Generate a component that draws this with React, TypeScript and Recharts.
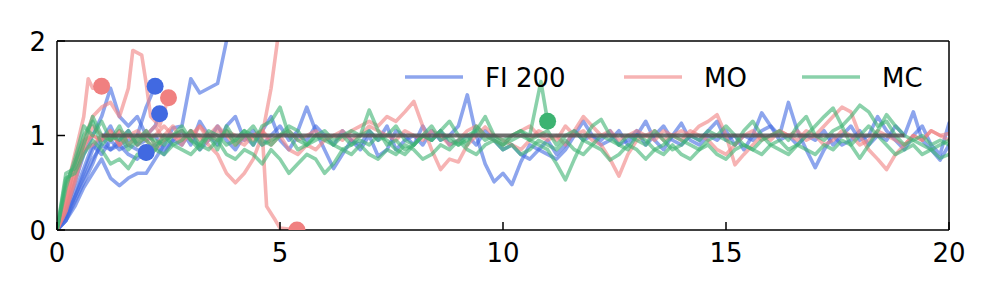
import { ComposedChart, Line, Scatter, XAxis, YAxis, ReferenceLine } from 'recharts';

const BLUE = '#4169e1';
const PINK = '#f08080';
const GREEN = '#3cb371';
const FONT = 'DejaVu Sans, sans-serif';

const xTicks = [0, 5, 10, 15, 20];
const yTicks = [0, 1, 2];
const legendLabels = ['FI 200', 'MO', 'MC'];

// full-length runs, one value every 0.2 from 0 to 20
const fiRunA = [
  0, 0.15, 0.35, 0.55, 0.75, 0.9, 0.85, 0.95, 1.05, 0.9,
  0.95, 1.0, 0.85, 0.95, 1.05, 0.9, 1.15, 1.0, 0.9, 1.1,
  1.2, 0.95, 1.05, 0.9, 1.0, 1.1, 0.95, 1.05, 1.3, 1.05,
  0.85, 0.65, 0.8, 0.95, 0.9, 1.05, 0.95, 1.1, 0.85, 0.95,
  1.0, 0.9, 1.05, 0.95, 1.0, 1.1, 1.43, 1.0, 0.7, 0.51,
  0.6, 0.48, 0.72, 0.9, 0.85, 0.95, 0.8, 0.9, 1.05, 0.95,
  1.0, 0.9, 0.95, 1.05, 0.9, 1.0, 1.15, 0.95, 0.85, 1.0,
  1.13, 0.95, 0.9, 1.0, 0.95, 1.05, 0.9, 1.0, 0.95, 1.05,
  1.1, 1.0, 1.35, 1.05, 0.85, 0.66, 0.85, 1.0, 0.9, 0.95,
  1.05, 0.9, 1.0, 0.95, 1.1, 1.0, 1.25, 0.95, 0.85, 0.74,
  0.9,
];
const fiRunB = [
  0, 0.1, 0.3, 0.5, 0.7, 0.95, 1.1, 0.9, 0.8, 0.75,
  0.85, 0.9, 0.8, 0.95, 0.9, 1.05, 0.85, 0.95, 1.1, 0.95,
  0.85, 1.0, 0.9, 1.05, 1.2, 0.95, 0.85, 1.0, 0.95, 1.1,
  1.0, 0.9, 1.05, 0.95, 0.85, 1.0, 0.78, 0.85, 1.05, 1.0,
  0.9, 1.1, 0.95, 1.05, 0.9, 0.95, 1.0, 0.9, 1.05, 0.95,
  0.85, 0.9, 0.8, 0.75, 0.85, 0.8, 0.75, 0.85, 1.0, 1.15,
  1.0, 0.95, 1.05, 0.9, 0.95, 1.05, 0.9, 1.0, 1.1, 0.95,
  0.9, 1.0, 0.95, 1.05, 1.15, 0.95, 1.0, 0.85, 1.0, 1.24,
  1.1, 0.95, 1.0, 0.9, 1.0, 0.95, 1.05, 0.9, 1.0, 1.1,
  0.95, 1.0, 1.2, 1.05, 0.95, 0.85, 1.0, 1.1, 0.9, 0.8,
  1.13,
];
const moRunA = [
  0, 0.3, 0.7, 0.95, 1.0, 0.95, 1.05, 0.9, 1.0, 0.95,
  1.05, 0.9, 1.0, 1.1, 0.95, 1.0, 1.1, 0.95, 1.05, 1.0,
  0.9, 1.0, 0.95, 1.05, 0.9, 1.0, 0.85, 0.8, 0.9, 0.85,
  0.95, 1.0, 0.95, 1.05, 1.1, 1.15, 1.1, 1.2, 1.15, 1.25,
  1.36, 1.1, 0.85, 0.64, 0.75, 0.72, 0.9, 1.0, 1.09, 1.0,
  0.95, 0.9, 0.85, 0.95, 1.05, 1.0, 0.95, 1.1, 1.0, 1.05,
  0.95, 0.9, 0.75, 0.57, 0.8, 0.95, 1.0, 1.05, 0.95, 1.0,
  1.05, 1.0, 1.1, 1.15, 1.22, 1.0, 0.69, 0.8, 0.9, 1.0,
  0.95, 1.05, 1.0, 0.95, 1.05, 1.0, 1.1, 1.2, 1.3, 1.25,
  1.0, 0.85, 0.75, 0.64, 0.8, 0.9, 1.0, 0.95, 1.05, 1.0,
  0.95,
];
const moRunB = [
  0, 0.2, 0.5, 0.85, 1.1, 1.0, 0.95, 1.05, 0.9, 1.0,
  0.95, 0.85, 0.95, 1.0, 0.9, 1.05, 0.95, 1.0, 1.1, 1.0,
  0.95, 0.9, 1.0, 1.05, 0.95, 1.0, 1.05, 0.95, 1.0, 1.05,
  0.95, 1.0, 1.05, 0.95, 1.0, 1.1, 1.05, 1.0, 0.95, 1.05,
  1.0, 0.95, 1.05, 1.0, 0.9, 0.95, 1.05, 1.1, 1.0, 0.95,
  0.9, 1.0, 1.05, 1.1, 1.0, 0.95, 1.0, 0.9, 1.05, 1.2,
  1.1, 1.0, 1.05, 0.95, 1.0, 1.05, 1.0, 0.95, 1.05, 1.0,
  0.95, 1.05, 1.0, 0.95, 0.85, 0.8, 0.9, 1.0, 1.05, 0.95,
  1.0, 1.05, 1.0, 1.05, 0.95, 1.0, 0.9, 0.95, 1.05, 1.0,
  0.9, 0.95, 1.05, 1.0, 0.95, 0.9, 1.0, 0.95, 1.05, 1.0,
  1.02,
];
const mcRunA = [
  0, 0.6, 0.65, 0.9, 1.2, 1.0, 0.95, 1.1, 0.9, 1.0,
  0.95, 0.85, 1.0, 0.9, 0.95, 1.05, 0.9, 1.0, 0.85, 1.1,
  0.95, 1.05, 0.9, 1.1, 1.15, 1.3, 1.0, 0.85, 0.9, 1.0,
  0.95, 0.9, 1.0, 1.05, 1.0, 1.27, 1.05, 0.9, 0.95, 0.85,
  0.9, 1.0, 0.95, 1.05, 1.15, 1.0, 0.9, 1.1, 1.0, 0.95,
  0.9, 1.0, 1.05, 0.95, 0.9, 0.85, 0.7, 0.53, 0.75, 0.95,
  1.1, 1.17, 1.0, 0.9, 1.0, 0.95, 0.9, 1.05, 0.95, 0.85,
  0.9, 1.0, 0.95, 1.05, 1.0, 0.95, 0.9, 1.05, 1.15, 1.0,
  0.9, 0.95, 0.85, 0.9, 1.0, 1.1, 1.2, 1.29, 1.1, 0.9,
  0.76, 0.9, 1.05, 1.22, 1.1, 1.0, 0.95, 0.9, 0.85, 0.9,
  0.95,
];
const mcRunB = [
  0, 0.55, 0.6, 0.8, 0.95, 0.85, 0.7, 0.75, 0.65, 0.8,
  0.75, 0.85, 0.8, 0.9, 0.85, 0.8, 0.9, 0.85, 0.95, 0.8,
  0.75, 0.85, 0.8, 0.7, 0.85, 0.75, 0.6, 0.7, 0.8, 0.75,
  0.6, 0.7, 0.85, 0.8, 0.9, 0.8, 0.75, 0.85, 0.8, 0.9,
  0.85, 0.75, 0.8, 0.9, 0.85, 0.95, 0.85, 0.8, 0.9, 0.95,
  0.85, 0.9, 0.8, 0.85, 0.95, 0.9, 0.85, 0.95, 0.85, 0.8,
  0.9, 0.85, 0.74, 0.8, 0.9, 0.85, 0.75, 0.85, 0.8, 0.9,
  0.8, 0.75, 0.85, 0.9, 0.8, 0.75, 0.85, 0.9, 0.85, 0.8,
  0.9, 0.85, 0.8, 0.9, 0.85, 0.8, 0.9, 0.85, 0.95, 0.9,
  1.0, 1.1, 1.0, 0.9, 0.8, 0.85, 0.9, 0.8, 0.85, 0.76,
  0.8,
];
const mcRunC = [
  0, 0.45, 0.75, 1.1, 1.0, 1.15, 0.95, 1.0, 0.85, 0.95,
  1.05, 0.9, 0.95, 1.0, 1.1, 0.95, 0.85, 1.0, 0.95, 1.05,
  0.9, 1.0, 1.1, 0.95, 0.9, 1.0, 1.1, 1.05, 0.9, 0.95,
  1.0, 0.9, 0.85, 0.9, 0.95, 0.9, 1.0, 0.95, 0.85, 0.8,
  0.9, 1.0, 1.1, 0.95, 1.0, 0.9, 0.95, 1.05, 1.2, 1.0,
  0.9, 0.95, 1.0, 0.95, 1.0, 1.05, 0.9, 1.0, 1.05, 0.95,
  0.9, 1.0, 0.95, 0.9, 0.85, 1.0, 0.95, 0.85, 0.9, 1.0,
  0.95, 0.9, 0.85, 0.95, 1.0, 1.1, 1.0, 0.9, 0.85, 0.95,
  1.0, 1.05, 0.95, 1.1, 1.2, 1.0, 0.95, 1.05, 1.1, 1.2,
  1.32, 1.25, 1.1, 1.15, 1.0, 0.9, 0.95, 1.0, 0.9, 0.95,
  0.9,
];

// runs that stop early (last point gets a marker, except the ones leaving the top)
const fiUpX = [0, 0.2, 0.4, 0.6, 0.8, 1.0, 1.2, 1.4, 1.6, 1.8, 2.0, 2.2, 2.4, 2.6, 2.8, 3.0, 3.2, 3.4, 3.6, 3.8, 4.0];
const fiUpY = [0, 0.1, 0.25, 0.45, 0.6, 0.75, 0.55, 0.47, 0.55, 0.6, 0.6, 0.75, 0.9, 1.08, 1.1, 1.6, 1.45, 1.5, 1.55, 2.0, 2.4];
const fiStopAX = [0, 0.2, 0.4, 0.6, 0.8, 1.0, 1.2, 1.4, 1.6, 1.8, 2.0, 2.2];
const fiStopAY = [0, 0.1, 0.35, 0.6, 0.85, 1.0, 0.85, 0.9, 0.95, 1.0, 1.3, 1.52];
const fiStopBX = [0, 0.2, 0.4, 0.6, 0.8, 1.0, 1.2, 1.4, 1.6, 1.8, 2.0, 2.2, 2.3];
const fiStopBY = [0, 0.2, 0.5, 0.8, 1.0, 1.2, 1.5, 1.2, 1.1, 1.2, 1.0, 1.1, 1.23];
const fiStopCX = [0, 0.2, 0.4, 0.6, 0.8, 1.0, 1.2, 1.4, 1.6, 1.8, 2.0];
const fiStopCY = [0, 0.15, 0.4, 0.65, 0.9, 0.8, 0.95, 0.85, 0.9, 0.85, 0.82];

const moStopAX = [0, 0.2, 0.4, 0.6, 0.7, 0.8, 1.0];
const moStopAY = [0, 0.4, 0.8, 1.2, 1.6, 1.5, 1.52];
const moStopBX = [0, 0.2, 0.4, 0.6, 0.8, 1.0, 1.2, 1.4, 1.6, 1.7, 1.9, 2.0, 2.1, 2.3, 2.5];
const moStopBY = [0, 0.3, 0.7, 0.95, 1.2, 1.3, 1.35, 1.2, 1.5, 1.9, 1.85, 1.55, 1.2, 1.1, 1.4];
const moUpX = [0, 0.2, 0.4, 0.6, 0.8, 1.0, 1.2, 1.4, 1.6, 1.8, 2.0, 2.2, 2.4, 2.6, 2.8, 3.0, 3.2, 3.4, 3.6, 3.8, 4.0, 4.2, 4.4, 4.6, 4.8, 5.0];
const moUpY = [0, 0.25, 0.6, 0.9, 1.0, 0.95, 1.05, 0.9, 1.0, 1.05, 0.95, 1.0, 1.1, 1.0, 0.95, 1.05, 1.0, 0.9, 0.8, 0.6, 0.5, 0.6, 0.75, 1.0, 1.5, 2.2];
const moDownX = [0, 0.2, 0.4, 0.6, 0.8, 1.0, 1.2, 1.4, 1.6, 1.8, 2.0, 2.2, 2.4, 2.6, 2.8, 3.0, 3.2, 3.4, 3.6, 3.8, 4.0, 4.2, 4.4, 4.6, 4.7, 4.9, 5.0, 5.38];
const moDownY = [0, 0.2, 0.55, 0.85, 0.9, 1.0, 0.95, 1.05, 1.0, 0.9, 1.0, 1.1, 0.95, 1.0, 1.05, 0.95, 1.1, 1.0, 0.95, 1.05, 1.0, 0.95, 1.0, 1.05, 0.25, 0.1, 0.02, 0];

const mcStopY = [
  0, 0.5, 0.7, 1.0, 1.15, 0.9, 1.0, 0.95, 1.05, 0.9,
  1.0, 0.95, 0.9, 1.0, 1.05, 0.95, 0.9, 1.05, 1.0, 0.9,
  0.95, 1.05, 1.0, 0.9, 0.95, 1.0, 1.05, 0.95, 0.9, 1.0,
  1.05, 0.95, 1.0, 0.9, 1.0, 1.05, 0.95, 1.0, 1.1, 0.95,
  0.9, 1.0, 0.95, 1.05, 0.95, 0.9, 1.0, 1.05, 0.95, 1.0,
  0.95, 1.0, 1.05, 1.0, 1.57, 1.15,
];

const baselineX = [1, 19];
const baselineY = [1, 1];

const fullX = fiRunA.map((_, i) => i * 0.2);
const mcStopX = fullX.slice(0, 54).concat([10.85, 11.0]);

const pts = (xs: number[], ys: number[]) => ys.map((y, i) => ({ x: xs[i], y }));
const last = (xs: number[], ys: number[]) => [{ x: xs[xs.length - 1], y: ys[ys.length - 1] }];

const series = [
  { key: 'fiA', color: BLUE, data: pts(fullX, fiRunA) },
  { key: 'fiB', color: BLUE, data: pts(fullX, fiRunB) },
  { key: 'fiUp', color: BLUE, data: pts(fiUpX, fiUpY) },
  { key: 'fiSA', color: BLUE, data: pts(fiStopAX, fiStopAY) },
  { key: 'fiSB', color: BLUE, data: pts(fiStopBX, fiStopBY) },
  { key: 'fiSC', color: BLUE, data: pts(fiStopCX, fiStopCY) },
  { key: 'moA', color: PINK, data: pts(fullX, moRunA) },
  { key: 'moB', color: PINK, data: pts(fullX, moRunB) },
  { key: 'moSA', color: PINK, data: pts(moStopAX, moStopAY) },
  { key: 'moSB', color: PINK, data: pts(moStopBX, moStopBY) },
  { key: 'moUp', color: PINK, data: pts(moUpX, moUpY) },
  { key: 'moDown', color: PINK, data: pts(moDownX, moDownY) },
  { key: 'mcA', color: GREEN, data: pts(fullX, mcRunA) },
  { key: 'mcB', color: GREEN, data: pts(fullX, mcRunB) },
  { key: 'mcC', color: GREEN, data: pts(fullX, mcRunC) },
  { key: 'mcS', color: GREEN, data: pts(mcStopX, mcStopY) },
];

const markers = [
  { key: 'd1', color: BLUE, data: last(fiStopAX, fiStopAY) },
  { key: 'd2', color: BLUE, data: last(fiStopBX, fiStopBY) },
  { key: 'd3', color: BLUE, data: last(fiStopCX, fiStopCY) },
  { key: 'd4', color: PINK, data: last(moStopAX, moStopAY) },
  { key: 'd5', color: PINK, data: last(moStopBX, moStopBY) },
  { key: 'd6', color: PINK, data: last(moDownX, moDownY) },
  { key: 'd7', color: GREEN, data: last(mcStopX, mcStopY) },
];

function XTick({ x, y, payload }: any) {
  return (
    <g>
      <line x1={x} x2={x} y1={y} y2={y - 8} stroke="#000" strokeWidth={1.5} />
      <text x={x} y={y + 32} textAnchor="middle" fontSize={26} fontFamily={FONT} fill="#000">
        {payload.value}
      </text>
    </g>
  );
}

function YTick({ x, y, payload }: any) {
  return (
    <g>
      <line x1={x} x2={x + 8} y1={y} y2={y} stroke="#000" strokeWidth={1.5} />
      <text x={x - 11} y={y + 9.5} textAnchor="end" fontSize={26} fontFamily={FONT} fill="#000">
        {payload.value}
      </text>
    </g>
  );
}

// legend handles sit inside the axes, upper right
const legendItems = [
  { label: legendLabels[0], color: BLUE, x1: 405, x2: 463, tx: 485 },
  { label: legendLabels[1], color: PINK, x1: 624, x2: 682, tx: 704 },
  { label: legendLabels[2], color: GREEN, x1: 802, x2: 860, tx: 882 },
];

export default function App() {
  return (
    <div style={{ position: 'absolute', left: 0, top: 0, width: 997, height: 299, background: '#fff' }}>
      <ComposedChart width={997} height={299} margin={{ top: 41, right: 48, bottom: 0, left: 0 }}>
        <XAxis
          type="number"
          dataKey="x"
          domain={[0, 20]}
          ticks={xTicks}
          interval={0}
          allowDataOverflow
          height={69}
          tickSize={0}
          tickMargin={0}
          tick={<XTick />}
          axisLine={{ stroke: '#000', strokeWidth: 1.5 }}
        />
        <YAxis
          type="number"
          dataKey="y"
          domain={[0, 2]}
          ticks={yTicks}
          interval={0}
          allowDataOverflow
          width={57}
          tickSize={0}
          tickMargin={0}
          tick={<YTick />}
          axisLine={{ stroke: '#000', strokeWidth: 1.5 }}
        />
        {series.map((s) => (
          <Line
            key={s.key}
            data={s.data}
            dataKey="y"
            type="linear"
            stroke={s.color}
            strokeOpacity={0.6}
            strokeWidth={3.6}
            strokeLinejoin="round"
            strokeLinecap="round"
            dot={false}
            activeDot={false}
            isAnimationActive={false}
          />
        ))}
        <Line
          data={pts(baselineX, baselineY)}
          dataKey="y"
          type="linear"
          stroke="#555"
          strokeOpacity={0.85}
          strokeWidth={4}
          dot={false}
          activeDot={false}
          isAnimationActive={false}
        />
        {markers.map((m) => (
          <Scatter
            key={m.key}
            data={m.data}
            dataKey="y"
            fill={m.color}
            isAnimationActive={false}
            shape={(p: any) => <circle cx={p.cx} cy={p.cy} r={8.5} fill={m.color} />}
          />
        ))}
        <ReferenceLine y={2} stroke="#000" strokeWidth={1.5} />
        <ReferenceLine x={20} stroke="#000" strokeWidth={1.5} />
      </ComposedChart>
      <svg width={997} height={299} style={{ position: 'absolute', left: 0, top: 0, pointerEvents: 'none' }}>
        {legendItems.map((it) => (
          <g key={it.label}>
            <line x1={it.x1} x2={it.x2} y1={77} y2={77} stroke={it.color} strokeOpacity={0.6} strokeWidth={3.6} />
            <text x={it.tx} y={86.5} fontSize={26} fontFamily={FONT} fill="#000">
              {it.label}
            </text>
          </g>
        ))}
      </svg>
    </div>
  );
}
